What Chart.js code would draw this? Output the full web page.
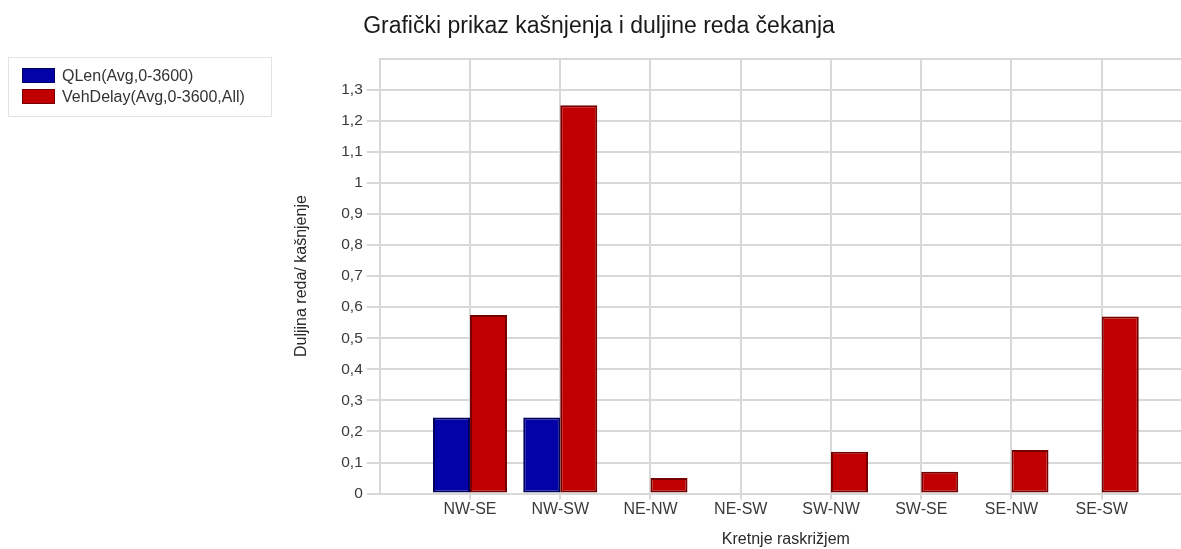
<!DOCTYPE html>
<html>
<head>
<meta charset="utf-8">
<script src="https://cdn.jsdelivr.net/npm/chart.js@4/dist/chart.umd.min.js"></script>
<style>
  html, body { margin: 0; padding: 0; background: #ffffff; overflow: hidden; width: 1181px; height: 549px; }
  #wrap { position: absolute; left: 0; top: 0; width: 1200px; height: 549px; }
  #legend { position: absolute; left: 8px; top: 57px; width: 264px; height: 60px; border: 1px solid #e4e4e4; box-sizing: border-box; font-family: "Liberation Sans", Arial, sans-serif; font-size: 16px; color: #333; }
  .item { position: absolute; left: 13px; height: 16px; line-height: 16px; white-space: nowrap; }
  .sw { position: absolute; left: 0; top: 0; width: 33px; height: 15px; box-sizing: border-box; border: 1px solid #000; }
  .lbl { position: absolute; left: 40px; top: 0; }
</style>
</head>
<body>
<div id="wrap"><canvas id="c" width="1200" height="549"></canvas></div>
<div id="legend"></div>
<script>
const categories = ['NW-SE', 'NW-SW', 'NE-NW', 'NE-SW', 'SW-NW', 'SW-SE', 'SE-NW', 'SE-SW'];
const seriesNames = ['QLen(Avg,0-3600)', 'VehDelay(Avg,0-3600,All)'];
const qLen = [0.245, 0.245, 0, 0, 0, 0, 0, 0];
const vehDelay = [0.575, 1.25, 0.05, 0, 0.135, 0.07, 0.14, 0.57];
const seriesFill = ['#0202a6', '#c00000'];
const seriesBorder = ['#00005e', '#760000'];

// one empty slot on each side of the categories, as in the original axis
const labels = [''].concat(categories, ['']);
const pad = arr => [null].concat(arr.map(v => v === 0 ? null : v), [null]);
const seriesData = [qLen, vehDelay];

const datasets = seriesNames.map((name, i) => ({
  label: name,
  data: pad(seriesData[i]),
  backgroundColor: seriesFill[i],
  borderColor: seriesBorder[i],
  borderWidth: 2,
  borderSkipped: false,
  categoryPercentage: 0.82,
  barPercentage: 1.0
}));

// HTML legend built from the series
const legend = document.getElementById('legend');
seriesNames.forEach((name, i) => {
  const it = document.createElement('div');
  it.className = 'item';
  it.style.top = (10 + i * 21) + 'px';
  const sw = document.createElement('div');
  sw.className = 'sw';
  sw.style.background = seriesFill[i];
  sw.style.borderColor = seriesBorder[i];
  const tx = document.createElement('div');
  tx.className = 'lbl';
  tx.textContent = name;
  it.appendChild(sw); it.appendChild(tx);
  legend.appendChild(it);
});

const FONT = '"Liberation Sans", Arial, sans-serif';
const gridCol = '#d8d8d8';

new Chart(document.getElementById('c'), {
  type: 'bar',
  data: { labels: labels, datasets: datasets },
  options: {
    responsive: false,
    animation: false,
    devicePixelRatio: 1,
    layout: { padding: { left: 6, right: 8, top: 0, bottom: 0 } },
    plugins: {
      legend: { display: false },
      tooltip: { enabled: false },
      title: {
        display: true,
        text: 'Grafički prikaz kašnjenja i duljine reda čekanja',
        color: '#1a1a1a',
        font: { family: FONT, size: 23, weight: 'normal' },
        padding: { top: 13, bottom: 18 }
      }
    },
    scales: {
      x: {
        type: 'category',
        offset: false,
        grid: {
          offset: false,
          color: gridCol,
          lineWidth: 2,
          tickLength: 6,
          tickColor: ctx => (ctx.index === 0 || ctx.index === labels.length - 1) ? 'rgba(0,0,0,0)' : gridCol
        },
        border: { color: gridCol, width: 2 },
        ticks: {
          color: '#3a3a3a',
          font: { family: FONT, size: 16 },
          padding: 0,
          autoSkip: false,
          maxRotation: 0
        },
        title: {
          display: true,
          text: 'Kretnje raskrižjem',
          color: '#2a2a2a',
          font: { family: FONT, size: 16 },
          padding: { top: 11, bottom: 0 }
        }
      },
      y: {
        min: 0,
        max: 1.4,
        grid: {
          color: gridCol,
          lineWidth: 2,
          tickLength: 13,
          tickColor: ctx => (ctx.tick && ctx.tick.value > 1.35) ? 'rgba(0,0,0,0)' : gridCol
        },
        border: { color: gridCol, width: 2 },
        ticks: {
          stepSize: 0.1,
          color: '#3a3a3a',
          font: { family: FONT, size: 15.5 },
          padding: 4,
          callback: v => {
            const r = Math.round(v * 10) / 10;
            if (r > 1.35) return '';
            return String(r).replace('.', ',');
          }
        },
        title: {
          display: true,
          text: 'Duljina reda/ kašnjenje',
          color: '#2a2a2a',
          font: { family: FONT, size: 16 },
          padding: { top: 286, bottom: 26 }
        }
      }
    }
  }
});
</script>
</body>
</html>
